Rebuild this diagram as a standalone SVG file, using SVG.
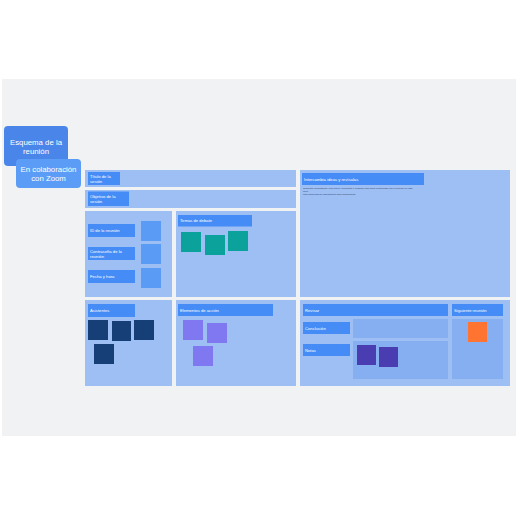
<svg xmlns="http://www.w3.org/2000/svg" width="516" height="516" viewBox="0 0 516 516">
<style>
.sec{fill:#9dbff4;}
.inner{fill:#86aff2;}
.lbl{fill:#458cf6;}
.t{font-family:"Liberation Sans",Arial,sans-serif;fill:#ffffff;font-size:4.2px;}
.tt{font-family:"Liberation Sans",Arial,sans-serif;fill:#ffffff;font-size:7.8px;text-anchor:middle;}
.small{font-family:"Liberation Sans",Arial,sans-serif;fill:#2a3e66;font-size:2.4px;}
.blue{fill:#5a9bf6;}
.teal{fill:#0aa29b;}
.navy{fill:#173f77;}
.purple{fill:#8078f1;}
.dpurple{fill:#4a3db1;}
.orange{fill:#ff7430;}
</style>
<rect width="516" height="516" fill="#ffffff"/>
<rect x="2" y="79" width="514" height="357" fill="#f1f2f4"/>

<g id="title">
<rect x="4" y="126" width="64" height="40" rx="4" fill="#4a86ea"/>
<text class="tt" x="36" y="145">Esquema de la</text>
<text class="tt" x="36" y="154">reunión</text>
</g>
<g id="subtitle">
<rect x="16" y="159" width="65" height="29" rx="4" fill="#5b9cf6"/>
<text class="tt" x="48.5" y="172">En colaboración</text>
<text class="tt" x="48.5" y="181">con Zoom</text>
</g>

<g id="titulo-sesion">
<rect class="sec" x="85" y="170" width="211" height="17"/>
<rect class="lbl" x="88" y="172" width="32" height="13"/>
<text class="t" x="90" y="177.5">Título de la</text>
<text class="t" x="90" y="182.5">sesión</text>
</g>
<g id="objetivo-sesion">
<rect class="sec" x="85" y="190" width="211" height="18"/>
<rect class="lbl" x="88" y="191.5" width="41" height="14.5"/>
<text class="t" x="90" y="197.5">Objetivo de la</text>
<text class="t" x="90" y="202.5">sesión</text>
</g>

<g id="datos-reunion">
<rect class="sec" x="85" y="211" width="87" height="86"/>
<rect class="lbl" x="88" y="224" width="47" height="13"/>
<text class="t" x="90" y="232">ID de la reunión</text>
<rect class="lbl" x="88" y="247" width="47" height="13"/>
<text class="t" x="90" y="252.5">Contraseña de la</text>
<text class="t" x="90" y="257.5">reunión</text>
<rect class="lbl" x="88" y="270" width="47" height="13"/>
<text class="t" x="90" y="278">Fecha y hora</text>
<rect class="blue" x="141" y="221" width="20" height="20"/>
<rect class="blue" x="141" y="244" width="20" height="20"/>
<rect class="blue" x="141" y="268" width="20" height="20"/>
</g>

<g id="temas-debate">
<rect class="sec" x="176" y="211" width="120" height="86"/>
<rect class="lbl" x="178" y="215" width="74" height="11.5"/>
<text class="t" x="180" y="222.3">Temas de debate</text>
<rect class="teal" x="181" y="232" width="20" height="20"/>
<rect class="teal" x="205" y="235" width="20" height="20"/>
<rect class="teal" x="228" y="231" width="20" height="20"/>
</g>

<g id="intercambia">
<rect class="sec" x="300" y="170" width="210" height="127"/>
<rect class="lbl" x="302" y="173" width="122" height="12"/>
<text class="t" x="304" y="180.5">Intercambia ideas y revísalas</text>
<text class="small" x="303" y="188.5">Comparte comentarios, reflexiones, preguntas o cualquier otro tema relacionado con la reunión en esta</text>
<text class="small" x="303" y="191.5">área.</text>
<text class="small" x="303" y="194.5">Usa elementos de planificación para organizarlos.</text>
</g>

<g id="asistentes">
<rect class="sec" x="85" y="300" width="87" height="86"/>
<rect class="lbl" x="88" y="304" width="47" height="13"/>
<text class="t" x="90" y="312">Asistentes</text>
<rect class="navy" x="88" y="320" width="20" height="20"/>
<rect class="navy" x="112" y="321" width="19" height="20"/>
<rect class="navy" x="134" y="320" width="20" height="20"/>
<rect class="navy" x="94" y="344" width="20" height="20"/>
</g>

<g id="elementos-accion">
<rect class="sec" x="176" y="300" width="120" height="86"/>
<rect class="lbl" x="178" y="304" width="95" height="12"/>
<text class="t" x="180" y="311.5">Elementos de acción</text>
<rect class="purple" x="183" y="320" width="20" height="20"/>
<rect class="purple" x="207" y="323" width="20" height="20"/>
<rect class="purple" x="193" y="346" width="20" height="20"/>
</g>

<g id="revisar">
<rect class="sec" x="300" y="300" width="210" height="86"/>
<rect class="lbl" x="303" y="304" width="145" height="12"/>
<text class="t" x="305" y="311.5">Revisar</text>
<rect class="inner" x="353" y="319" width="95" height="19"/>
<rect class="inner" x="353" y="341" width="95" height="38"/>
<rect class="lbl" x="303" y="322" width="47" height="12"/>
<text class="t" x="305" y="329.5">Conclusión</text>
<rect class="lbl" x="303" y="344" width="47" height="12"/>
<text class="t" x="305" y="351.5">Notas</text>
<rect class="dpurple" x="357" y="345" width="19" height="20"/>
<rect class="dpurple" x="379" y="347" width="19" height="20"/>
</g>

<g id="siguiente-reunion">
<rect class="lbl" x="452" y="304" width="51" height="12"/>
<text class="t" x="454" y="311.5">Siguiente reunión</text>
<rect class="inner" x="452" y="319" width="51" height="60"/>
<rect class="orange" x="468" y="322" width="19" height="20"/>
</g>

<g id="connectors"></g>
</svg>
